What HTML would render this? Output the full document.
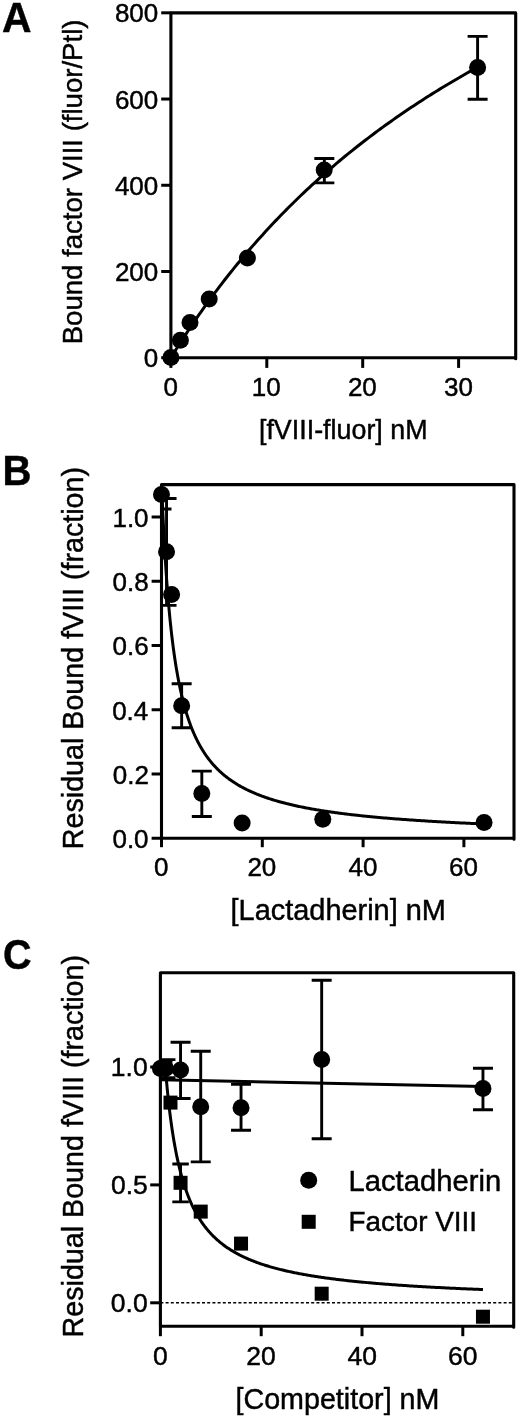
<!DOCTYPE html>
<html><head><meta charset="utf-8"><title>Figure</title>
<style>html,body{margin:0;padding:0;background:#fff;}svg{display:block;}</style>
</head><body>
<svg width="520" height="1418" viewBox="0 0 520 1418">
<rect width="520" height="1418" fill="#fff"/>
<defs>
<clipPath id="ca"><rect x="170.9" y="12.9" width="344.80000000000007" height="344.8"/></clipPath>
<clipPath id="cb"><rect x="161.5" y="484.6" width="352.5" height="353.6"/></clipPath>
<clipPath id="cc"><rect x="160.4" y="972.8" width="353.30000000000007" height="353.4000000000001"/></clipPath>
</defs>
<g stroke="#000" fill="none" stroke-linecap="butt">
<polyline points="170.9,357.7 173.46,353.56 176.01,349.47 178.57,345.43 181.13,341.43 183.69,337.48 186.24,333.58 188.8,329.72 191.36,325.9 193.92,322.13 196.47,318.41 199.03,314.72 201.59,311.07 204.15,307.47 206.7,303.91 209.26,300.38 211.82,296.89 214.37,293.44 216.93,290.03 219.49,286.66 222.05,283.32 224.6,280.02 227.16,276.75 229.72,273.52 232.28,270.32 234.83,267.15 237.39,264.02 239.95,260.92 242.51,257.85 245.06,254.81 247.62,251.8 250.18,248.83 252.73,245.88 255.29,242.96 257.85,240.08 260.41,237.22 262.96,234.39 265.52,231.58 268.08,228.81 270.64,226.06 273.19,223.34 275.75,220.64 278.31,217.97 280.87,215.32 283.42,212.71 285.98,210.11 288.54,207.54 291.09,204.99 293.65,202.47 296.21,199.97 298.77,197.5 301.32,195.04 303.88,192.61 306.44,190.2 309,187.82 311.55,185.45 314.11,183.11 316.67,180.78 319.23,178.48 321.78,176.2 324.34,173.94 326.9,171.69 329.45,169.47 332.01,167.27 334.57,165.08 337.13,162.92 339.68,160.77 342.24,158.64 344.8,156.53 347.36,154.44 349.91,152.37 352.47,150.31 355.03,148.27 357.59,146.25 360.14,144.24 362.7,142.25 365.26,140.28 367.81,138.32 370.37,136.38 372.93,134.45 375.49,132.55 378.04,130.65 380.6,128.77 383.16,126.91 385.72,125.06 388.27,123.23 390.83,121.41 393.39,119.6 395.95,117.81 398.5,116.03 401.06,114.27 403.62,112.52 406.17,110.78 408.73,109.06 411.29,107.35 413.85,105.65 416.4,103.97 418.96,102.3 421.52,100.64 424.08,99 426.63,97.36 429.19,95.74 431.75,94.13 434.31,92.54 436.86,90.95 439.42,89.38 441.98,87.81 444.53,86.26 447.09,84.72 449.65,83.2 452.21,81.68 454.76,80.17 457.32,78.68 459.88,77.19 462.44,75.72 464.99,74.25 467.55,72.8 470.11,71.36 472.67,69.93 475.22,68.5 477.78,67.09" fill="none" stroke-width="3.0" clip-path="url(#ca)"/>
</g>
<g stroke="#000" fill="none">
<path d="M324.34 158.5V182.9M314.34 158.5H334.34M314.34 182.9H334.34" stroke-width="2.9"/>
<path d="M477.6 36.4V99.3M467.6 36.4H487.6M467.6 99.3H487.6" stroke-width="2.9"/>
</g>
<g fill="#000">
<circle cx="170.9" cy="357.5" r="8.5"/>
<circle cx="180.4" cy="340.2" r="8.5"/>
<circle cx="190" cy="322.5" r="8.5"/>
<circle cx="209.2" cy="299" r="8.5"/>
<circle cx="247.4" cy="258" r="8.5"/>
<circle cx="324.2" cy="170" r="8.5"/>
<circle cx="477.6" cy="67.5" r="8.5"/>
</g>
<g stroke="#000" fill="none" stroke-width="3.0">
<path d="M170.9 357.7V12.9H515.7V358.8" stroke-linejoin="round" stroke-linecap="round" stroke-width="3.1"/><path d="M170.9 357.7H515.7"/>
<path d="M161.2 357.7H170.9"/>
<path d="M161.2 271.48H170.9"/>
<path d="M161.2 185.26H170.9"/>
<path d="M161.2 99.04H170.9"/>
<path d="M161.2 12.82H170.9"/>
<path d="M170.9 357.7V367.9"/>
<path d="M266.8 357.7V367.9"/>
<path d="M362.7 357.7V367.9"/>
<path d="M458.6 357.7V367.9"/>
</g>
<g stroke="#000" fill="none">
<polyline points="161.5,480.06 161.5,480.11 161.51,480.27 161.52,480.54 161.53,480.92 161.55,481.4 161.57,481.99 161.6,482.68 161.63,483.47 161.66,484.37 161.7,485.37 161.74,486.46 161.79,487.65 161.84,488.94 161.9,490.32 161.95,491.79 162.02,493.34 162.08,494.99 162.15,496.71 162.23,498.51 162.31,500.39 162.39,502.35 162.48,504.37 162.57,506.47 162.66,508.63 162.76,510.85 162.86,513.13 162.97,515.47 163.08,517.86 163.2,520.3 163.31,522.78 163.44,525.31 163.56,527.88 163.7,530.49 163.83,533.14 163.97,535.81 164.11,538.51 164.26,541.25 164.41,544 164.57,546.77 164.73,549.57 164.89,552.37 165.06,555.2 165.23,558.03 165.4,560.87 165.58,563.72 165.77,566.57 165.95,569.42 166.14,572.28 166.34,575.13 166.54,577.98 166.74,580.82 166.95,583.66 167.16,586.48 167.38,589.3 167.6,592.11 167.82,594.9 168.05,597.68 168.28,600.44 168.52,603.19 168.76,605.92 169,608.63 169.25,611.33 169.5,614 169.76,616.65 170.02,619.28 170.28,621.89 170.55,624.47 170.82,627.03 171.1,629.57 171.38,632.08 171.66,634.57 171.95,637.03 172.24,639.47 172.54,641.88 172.84,644.26 173.14,646.62 173.45,648.95 173.77,651.26 174.08,653.54 174.4,655.79 174.73,658.01 175.06,660.21 175.39,662.38 175.72,664.53 176.07,666.64 176.41,668.73 176.76,670.8 177.11,672.83 177.47,674.84 177.83,676.83 178.19,678.78 178.56,680.71 178.94,682.62 179.31,684.5 179.69,686.35 180.08,688.18 180.47,689.99 180.86,691.77 181.26,693.52 181.66,695.25 182.07,696.96 182.47,698.64 182.89,700.3 183.31,701.93 183.73,703.55 184.15,705.14 184.58,706.7 185.01,708.25 185.45,709.77 185.89,711.27 186.34,712.75 186.79,714.21 187.24,715.65 187.7,717.06 188.16,718.46 188.63,719.84 189.1,721.19 189.57,722.53 190.05,723.85 190.53,725.15 191.02,726.43 191.51,727.69 192,728.94 192.5,730.16 193,731.37 193.51,732.56 194.02,733.74 194.53,734.89 195.05,736.03 195.57,737.16 196.1,738.27 196.63,739.36 197.16,740.44 197.7,741.5 198.24,742.54 198.79,743.58 199.34,744.59 199.89,745.6 200.45,746.58 201.01,747.56 201.58,748.52 202.15,749.47 202.73,750.4 203.3,751.32 203.89,752.23 204.47,753.12 205.06,754.01 205.66,754.88 206.26,755.74 206.86,756.58 207.47,757.42 208.08,758.24 208.69,759.05 209.31,759.85 209.93,760.64 210.56,761.42 211.19,762.19 211.83,762.95 212.47,763.7 213.11,764.43 213.76,765.16 214.41,765.88 215.06,766.59 215.72,767.29 216.39,767.98 217.05,768.66 217.72,769.33 218.4,769.99 219.08,770.64 219.76,771.29 220.45,771.92 221.14,772.55 221.84,773.17 222.54,773.78 223.24,774.39 223.95,774.98 224.66,775.57 225.37,776.15 226.09,776.72 226.82,777.29 227.55,777.85 228.28,778.4 229.01,778.94 229.75,779.48 230.5,780.01 231.25,780.54 232,781.05 232.75,781.56 233.51,782.07 234.28,782.57 235.05,783.06 235.82,783.54 236.59,784.02 237.37,784.5 238.16,784.97 238.95,785.43 239.74,785.89 240.54,786.34 241.34,786.78 242.14,787.22 242.95,787.66 243.76,788.09 244.58,788.51 245.4,788.93 246.22,789.35 247.05,789.75 247.88,790.16 248.72,790.56 249.56,790.95 250.41,791.34 251.25,791.73 252.11,792.11 252.96,792.49 253.82,792.86 254.69,793.23 255.56,793.59 256.43,793.95 257.31,794.31 258.19,794.66 259.07,795.01 259.96,795.35 260.86,795.69 261.75,796.03 262.65,796.36 263.56,796.69 264.47,797.01 265.38,797.33 266.3,797.65 267.22,797.97 268.15,798.28 269.08,798.58 270.01,798.89 270.95,799.19 271.89,799.49 272.83,799.78 273.78,800.07 274.74,800.36 275.69,800.64 276.66,800.92 277.62,801.2 278.59,801.48 279.57,801.75 280.54,802.02 281.52,802.29 282.51,802.55 283.5,802.81 284.49,803.07 285.49,803.32 286.49,803.58 287.5,803.83 288.51,804.07 289.52,804.32 290.54,804.56 291.56,804.8 292.59,805.04 293.62,805.27 294.65,805.51 295.69,805.74 296.74,805.97 297.78,806.19 298.83,806.41 299.89,806.64 300.94,806.85 302.01,807.07 303.07,807.29 304.14,807.5 305.22,807.71 306.3,807.92 307.38,808.12 308.47,808.33 309.56,808.53 310.65,808.73 311.75,808.93 312.85,809.12 313.96,809.32 315.07,809.51 316.19,809.7 317.3,809.89 318.43,810.08 319.55,810.26 320.69,810.45 321.82,810.63 322.96,810.81 324.1,810.99 325.25,811.16 326.4,811.34 327.56,811.51 328.72,811.68 329.88,811.85 331.05,812.02 332.22,812.19 333.39,812.35 334.57,812.52 335.75,812.68 336.94,812.84 338.13,813 339.33,813.16 340.53,813.31 341.73,813.47 342.94,813.62 344.15,813.77 345.37,813.92 346.59,814.07 347.81,814.22 349.04,814.37 350.27,814.51 351.51,814.66 352.75,814.8 353.99,814.94 355.24,815.08 356.49,815.22 357.75,815.36 359.01,815.5 360.27,815.63 361.54,815.77 362.81,815.9 364.09,816.03 365.37,816.16 366.65,816.29 367.94,816.42 369.23,816.55 370.53,816.68 371.83,816.8 373.13,816.93 374.44,817.05 375.75,817.17 377.07,817.29 378.39,817.41 379.71,817.53 381.04,817.65 382.37,817.77 383.71,817.88 385.05,818 386.4,818.11 387.75,818.23 389.1,818.34 390.46,818.45 391.82,818.56 393.18,818.67 394.55,818.78 395.92,818.89 397.3,818.99 398.68,819.1 400.07,819.21 401.45,819.31 402.85,819.41 404.24,819.52 405.65,819.62 407.05,819.72 408.46,819.82 409.87,819.92 411.29,820.02 412.71,820.12 414.14,820.21 415.57,820.31 417,820.4 418.44,820.5 419.88,820.59 421.32,820.69 422.77,820.78 424.23,820.87 425.68,820.96 427.15,821.05 428.61,821.14 430.08,821.23 431.56,821.32 433.03,821.41 434.51,821.5 436,821.58 437.49,821.67 438.98,821.75 440.48,821.84 441.98,821.92 443.49,822.01 445,822.09 446.51,822.17 448.03,822.25 449.55,822.33 451.08,822.41 452.61,822.49 454.14,822.57 455.68,822.65 457.23,822.73 458.77,822.8 460.32,822.88 461.88,822.96 463.43,823.03 465,823.11 466.56,823.18 468.13,823.26 469.71,823.33 471.29,823.4 472.87,823.47 474.46,823.55 476.05,823.62 477.64,823.69 479.24,823.76 480.84,823.83 482.45,823.9 484.06,823.97" fill="none" stroke-width="3.0" clip-path="url(#cb)"/>
<path d="M161.5 478V509M151.5 478H171.5M151.5 509H171.5" stroke-width="2.9" clip-path="url(#cb)"/>
<path d="M166.54 498.5V605.4M156.54 498.5H176.54M156.54 605.4H176.54" stroke-width="2.9" clip-path="url(#cb)"/>
<path d="M181.66 683.8V727.7M171.66 683.8H191.66M171.66 727.7H191.66" stroke-width="2.9" clip-path="url(#cb)"/>
<path d="M201.82 771.1V816.5M191.82 771.1H211.82M191.82 816.5H211.82" stroke-width="2.9" clip-path="url(#cb)"/>
</g>
<g fill="#000">
<circle cx="161.5" cy="494.6" r="8.5"/>
<circle cx="166.54" cy="551.7" r="8.5"/>
<circle cx="171.58" cy="594.4" r="8.5"/>
<circle cx="181.66" cy="705.8" r="8.5"/>
<circle cx="201.82" cy="793.5" r="8.5"/>
<circle cx="242.14" cy="823.1" r="8.5"/>
<circle cx="322.78" cy="819.2" r="8.5"/>
<circle cx="484.06" cy="822.5" r="8.5"/>
</g>
<g stroke="#000" fill="none" stroke-width="3.0">
<path d="M161.5 838.2V484.6H514.0V839.3000000000001" stroke-linejoin="round" stroke-linecap="round" stroke-width="3.1"/><path d="M161.5 838.2H514.0"/>
<path d="M151.6 838.25H161.5"/>
<path d="M151.6 774H161.5"/>
<path d="M151.6 709.75H161.5"/>
<path d="M151.6 645.5H161.5"/>
<path d="M151.6 581.25H161.5"/>
<path d="M151.6 517H161.5"/>
<path d="M161.5 838.2V847.2"/>
<path d="M262.3 838.2V847.2"/>
<path d="M363.1 838.2V847.2"/>
<path d="M463.9 838.2V847.2"/>
</g>
<path d="M160.4 1302.8H513.7" stroke="#000" stroke-width="1.6" stroke-dasharray="3 2.2" fill="none"/>
<g stroke="#000" fill="none">
<polyline points="165.44,1068.68 165.44,1068.71 165.45,1068.78 165.46,1068.9 165.47,1069.07 165.49,1069.29 165.51,1069.56 165.54,1069.87 165.57,1070.23 165.6,1070.64 165.64,1071.1 165.68,1071.6 165.73,1072.14 165.78,1072.73 165.83,1073.37 165.89,1074.05 165.95,1074.77 166.01,1075.53 166.08,1076.33 166.16,1077.17 166.23,1078.05 166.32,1078.97 166.4,1079.92 166.49,1080.91 166.58,1081.94 166.68,1082.99 166.78,1084.09 166.89,1085.21 167,1086.36 167.11,1087.54 167.23,1088.75 167.35,1089.99 167.47,1091.25 167.6,1092.54 167.73,1093.85 167.87,1095.18 168.01,1096.53 168.16,1097.9 168.31,1099.29 168.46,1100.7 168.62,1102.13 168.78,1103.57 168.94,1105.03 169.11,1106.49 169.28,1107.97 169.46,1109.47 169.64,1110.97 169.82,1112.48 170.01,1114 170.2,1115.52 170.4,1117.06 170.6,1118.59 170.81,1120.13 171.01,1121.68 171.23,1123.23 171.44,1124.78 171.66,1126.33 171.89,1127.88 172.12,1129.43 172.35,1130.99 172.58,1132.53 172.82,1134.08 173.07,1135.62 173.32,1137.16 173.57,1138.7 173.82,1140.23 174.08,1141.76 174.35,1143.28 174.62,1144.79 174.89,1146.3 175.16,1147.8 175.44,1149.29 175.73,1150.78 176.02,1152.25 176.31,1153.72 176.6,1155.18 176.9,1156.63 177.21,1158.07 177.51,1159.5 177.83,1160.92 178.14,1162.33 178.46,1163.73 178.78,1165.12 179.11,1166.5 179.44,1167.86 179.78,1169.22 180.12,1170.56 180.46,1171.89 180.81,1173.22 181.16,1174.52 181.51,1175.82 181.87,1177.11 182.24,1178.38 182.6,1179.64 182.98,1180.89 183.35,1182.13 183.73,1183.35 184.11,1184.57 184.5,1185.77 184.89,1186.95 185.28,1188.13 185.68,1189.3 186.09,1190.45 186.49,1191.59 186.9,1192.71 187.32,1193.83 187.74,1194.93 188.16,1196.02 188.59,1197.1 189.02,1198.17 189.45,1199.23 189.89,1200.27 190.33,1201.3 190.78,1202.33 191.23,1203.34 191.69,1204.33 192.14,1205.32 192.61,1206.29 193.07,1207.26 193.54,1208.21 194.02,1209.15 194.5,1210.08 194.98,1211 195.46,1211.91 195.95,1212.81 196.45,1213.7 196.95,1214.58 197.45,1215.45 197.95,1216.3 198.46,1217.15 198.98,1217.99 199.5,1218.82 200.02,1219.63 200.54,1220.44 201.07,1221.24 201.61,1222.03 202.15,1222.81 202.69,1223.58 203.23,1224.34 203.78,1225.09 204.34,1225.83 204.89,1226.56 205.46,1227.29 206.02,1228.01 206.59,1228.71 207.16,1229.41 207.74,1230.1 208.32,1230.79 208.91,1231.46 209.5,1232.13 210.09,1232.78 210.69,1233.43 211.29,1234.08 211.9,1234.71 212.5,1235.34 213.12,1235.96 213.73,1236.57 214.36,1237.18 214.98,1237.78 215.61,1238.37 216.24,1238.95 216.88,1239.53 217.52,1240.1 218.17,1240.66 218.82,1241.22 219.47,1241.77 220.12,1242.31 220.79,1242.85 221.45,1243.38 222.12,1243.9 222.79,1244.42 223.47,1244.94 224.15,1245.44 224.83,1245.94 225.52,1246.44 226.22,1246.93 226.91,1247.41 227.61,1247.89 228.32,1248.36 229.03,1248.83 229.74,1249.29 230.45,1249.74 231.17,1250.19 231.9,1250.64 232.63,1251.08 233.36,1251.52 234.1,1251.95 234.84,1252.37 235.58,1252.79 236.33,1253.21 237.08,1253.62 237.84,1254.03 238.6,1254.43 239.36,1254.83 240.13,1255.22 240.9,1255.61 241.68,1255.99 242.46,1256.37 243.24,1256.75 244.03,1257.12 244.82,1257.49 245.62,1257.85 246.42,1258.21 247.22,1258.57 248.03,1258.92 248.84,1259.26 249.65,1259.61 250.47,1259.95 251.3,1260.29 252.12,1260.62 252.96,1260.95 253.79,1261.27 254.63,1261.59 255.47,1261.91 256.32,1262.23 257.17,1262.54 258.03,1262.85 258.89,1263.15 259.75,1263.46 260.62,1263.75 261.49,1264.05 262.36,1264.34 263.24,1264.63 264.13,1264.92 265.01,1265.2 265.91,1265.48 266.8,1265.76 267.7,1266.03 268.6,1266.3 269.51,1266.57 270.42,1266.84 271.33,1267.1 272.25,1267.36 273.18,1267.62 274.1,1267.88 275.03,1268.13 275.97,1268.38 276.91,1268.63 277.85,1268.87 278.8,1269.11 279.75,1269.35 280.7,1269.59 281.66,1269.83 282.62,1270.06 283.59,1270.29 284.56,1270.52 285.53,1270.75 286.51,1270.97 287.49,1271.19 288.48,1271.41 289.47,1271.63 290.47,1271.84 291.46,1272.06 292.47,1272.27 293.47,1272.48 294.48,1272.68 295.5,1272.89 296.51,1273.09 297.54,1273.29 298.56,1273.49 299.59,1273.69 300.63,1273.88 301.66,1274.08 302.71,1274.27 303.75,1274.46 304.8,1274.64 305.86,1274.83 306.91,1275.01 307.97,1275.2 309.04,1275.38 310.11,1275.56 311.18,1275.73 312.26,1275.91 313.34,1276.08 314.43,1276.26 315.52,1276.43 316.61,1276.6 317.71,1276.77 318.81,1276.93 319.92,1277.1 321.02,1277.26 322.14,1277.42 323.26,1277.58 324.38,1277.74 325.5,1277.9 326.63,1278.05 327.76,1278.21 328.9,1278.36 330.04,1278.51 331.19,1278.66 332.34,1278.81 333.49,1278.96 334.65,1279.11 335.81,1279.25 336.97,1279.4 338.14,1279.54 339.31,1279.68 340.49,1279.82 341.67,1279.96 342.86,1280.1 344.05,1280.23 345.24,1280.37 346.43,1280.5 347.63,1280.64 348.84,1280.77 350.05,1280.9 351.26,1281.03 352.48,1281.16 353.7,1281.29 354.92,1281.41 356.15,1281.54 357.38,1281.66 358.62,1281.78 359.86,1281.91 361.1,1282.03 362.35,1282.15 363.6,1282.27 364.86,1282.38 366.12,1282.5 367.38,1282.62 368.65,1282.73 369.92,1282.85 371.2,1282.96 372.48,1283.07 373.76,1283.18 375.05,1283.29 376.34,1283.4 377.64,1283.51 378.94,1283.62 380.24,1283.73 381.55,1283.83 382.86,1283.94 384.18,1284.04 385.5,1284.15 386.82,1284.25 388.15,1284.35 389.48,1284.45 390.82,1284.55 392.16,1284.65 393.5,1284.75 394.85,1284.85 396.2,1284.95 397.56,1285.04 398.91,1285.14 400.28,1285.23 401.65,1285.33 403.02,1285.42 404.39,1285.51 405.77,1285.6 407.15,1285.7 408.54,1285.79 409.93,1285.88 411.33,1285.97 412.73,1286.05 414.13,1286.14 415.54,1286.23 416.95,1286.31 418.36,1286.4 419.78,1286.49 421.2,1286.57 422.63,1286.65 424.06,1286.74 425.5,1286.82 426.94,1286.9 428.38,1286.98 429.83,1287.06 431.28,1287.14 432.73,1287.22 434.19,1287.3 435.65,1287.38 437.12,1287.46 438.59,1287.54 440.06,1287.61 441.54,1287.69 443.02,1287.76 444.51,1287.84 446,1287.91 447.5,1287.99 448.99,1288.06 450.5,1288.13 452,1288.21 453.51,1288.28 455.03,1288.35 456.54,1288.42 458.07,1288.49 459.59,1288.56 461.12,1288.63 462.66,1288.7 464.19,1288.77 465.74,1288.83 467.28,1288.9 468.83,1288.97 470.39,1289.03 471.94,1289.1 473.51,1289.17 475.07,1289.23 476.64,1289.29 478.22,1289.36 479.79,1289.42 481.37,1289.49 482.96,1289.55" fill="none" stroke-width="3.0" clip-path="url(#cc)"/>
<path d="M160.4 1079.7L482.96 1086.4" stroke-width="3.0"/>
<path d="M165.44 1059.6V1077.6M155.44 1059.6H175.44M155.44 1077.6H175.44" stroke-width="2.9" clip-path="url(#cc)"/>
<path d="M180.56 1042.3V1098.5M170.56 1042.3H190.56M170.56 1098.5H190.56" stroke-width="2.9"/>
<path d="M200.72 1051.2V1161.9M190.72 1051.2H210.72M190.72 1161.9H210.72" stroke-width="2.9"/>
<path d="M241.04 1084.2V1130.3M231.04 1084.2H251.04M231.04 1130.3H251.04" stroke-width="2.9"/>
<path d="M321.68 980.2V1138.8M311.68 980.2H331.68M311.68 1138.8H331.68" stroke-width="2.9"/>
<path d="M482.96 1068.2V1109.7M472.96 1068.2H492.96M472.96 1109.7H492.96" stroke-width="2.9"/>
<path d="M180.56 1164V1201.9M172.31 1164H188.81M172.31 1201.9H188.81" stroke-width="2.9"/>
</g>
<g fill="#000">
<circle cx="160.4" cy="1068.6" r="8.5"/>
<circle cx="165.44" cy="1068.6" r="8.5"/>
<circle cx="180.56" cy="1070" r="8.5"/>
<circle cx="200.72" cy="1106.8" r="8.5"/>
<circle cx="241.04" cy="1107.7" r="8.5"/>
<circle cx="321.68" cy="1059.5" r="8.5"/>
<circle cx="482.96" cy="1088.5" r="8.5"/>
<rect x="158.44" y="1060" width="14" height="14"/>
<rect x="163.48" y="1095.6" width="14" height="14"/>
<rect x="173.56" y="1175.8" width="14" height="14"/>
<rect x="193.72" y="1204.6" width="14" height="14"/>
<rect x="234.04" y="1236.6" width="14" height="14"/>
<rect x="314.68" y="1286.7" width="14" height="14"/>
<rect x="475.96" y="1309.7" width="14" height="14"/>
<circle cx="308.7" cy="1180.3" r="8.5"/>
<rect x="301.7" y="1214.8" width="14" height="14"/>
</g>
<g stroke="#000" fill="none" stroke-width="3.0">
<path d="M160.4 1326.2V972.8H513.7V1327.3" stroke-linejoin="round" stroke-linecap="round" stroke-width="3.1"/><path d="M160.4 1326.2H513.7"/>
<path d="M150.2 1302.8H160.4"/>
<path d="M150.2 1184.9H160.4"/>
<path d="M150.2 1067H160.4"/>
<path d="M160.4 1326.2V1336.2"/>
<path d="M261.2 1326.2V1336.2"/>
<path d="M362 1326.2V1336.2"/>
<path d="M462.8 1326.2V1336.2"/>
</g>
<g fill="#000" stroke="#000" stroke-width="0.45" font-family="'Liberation Sans', Arial, sans-serif">
<text x="1.98" y="32" font-size="42.5" textLength="29.53" lengthAdjust="spacingAndGlyphs" font-weight="bold">A</text>
<text x="2.6" y="484.8" font-size="42.5" textLength="28.89" lengthAdjust="spacingAndGlyphs" font-weight="bold">B</text>
<text x="2.92" y="968.7" font-size="42.5" textLength="28.56" lengthAdjust="spacingAndGlyphs" font-weight="bold">C</text>
<text x="143.85" y="367.2" font-size="26">0</text>
<text x="114.92" y="280.98" font-size="26">200</text>
<text x="114.92" y="194.76" font-size="26">400</text>
<text x="114.92" y="108.54" font-size="26">600</text>
<text x="114.92" y="22.32" font-size="26">800</text>
<text x="163.45" y="396.1" font-size="26">0</text>
<text x="251.68" y="396.1" font-size="26">10</text>
<text x="347.91" y="396.1" font-size="26">20</text>
<text x="443.97" y="396.1" font-size="26">30</text>
<text x="112.44" y="848.15" font-size="26">0.0</text>
<text x="112.76" y="783.9" font-size="26">0.2</text>
<text x="112.17" y="719.65" font-size="26">0.4</text>
<text x="112.56" y="655.4" font-size="26">0.6</text>
<text x="112.56" y="591.15" font-size="26">0.8</text>
<text x="112.44" y="526.9" font-size="26">1.0</text>
<text x="153.95" y="876.1" font-size="26">0</text>
<text x="247.41" y="876.1" font-size="26">20</text>
<text x="348.56" y="876.1" font-size="26">40</text>
<text x="449.01" y="876.1" font-size="26">60</text>
<text x="110.86" y="1312" font-size="26.5">0.0</text>
<text x="110.92" y="1194.1" font-size="26.5">0.5</text>
<text x="110.86" y="1076.2" font-size="26.5">1.0</text>
<text x="153.01" y="1365.1" font-size="26.5">0</text>
<text x="246.33" y="1365.1" font-size="26.5">20</text>
<text x="347.49" y="1365.1" font-size="26.5">40</text>
<text x="447.93" y="1365.1" font-size="26.5">60</text>
<text x="258.95" y="438.6" font-size="27.4" textLength="168.65" lengthAdjust="spacingAndGlyphs">[fVIII-fluor] nM</text>
<text x="230.6" y="920" font-size="28.9" textLength="215.32" lengthAdjust="spacingAndGlyphs">[Lactadherin] nM</text>
<text x="235.52" y="1409.4" font-size="28.7" textLength="203.87" lengthAdjust="spacingAndGlyphs">[Competitor] nM</text>
<text transform="translate(81.6,344.27) rotate(-90)" x="0" y="0" font-size="27.7" textLength="324.71" lengthAdjust="spacingAndGlyphs">Bound factor VIII (fluor/Ptl)</text>
<text transform="translate(82.8,849.16) rotate(-90)" x="0" y="0" font-size="28.8" textLength="382.16" lengthAdjust="spacingAndGlyphs">Residual Bound fVIII (fraction)</text>
<text transform="translate(82.8,1337.47) rotate(-90)" x="0" y="0" font-size="28.8" textLength="382.47" lengthAdjust="spacingAndGlyphs">Residual Bound fVIII (fraction)</text>
<text x="348.49" y="1190.5" font-size="28.8" textLength="152.75" lengthAdjust="spacingAndGlyphs">Lactadherin</text>
<text x="348.61" y="1230.9" font-size="28.4" textLength="128.27" lengthAdjust="spacingAndGlyphs">Factor VIII</text>
</g>
</svg>
</body></html>
